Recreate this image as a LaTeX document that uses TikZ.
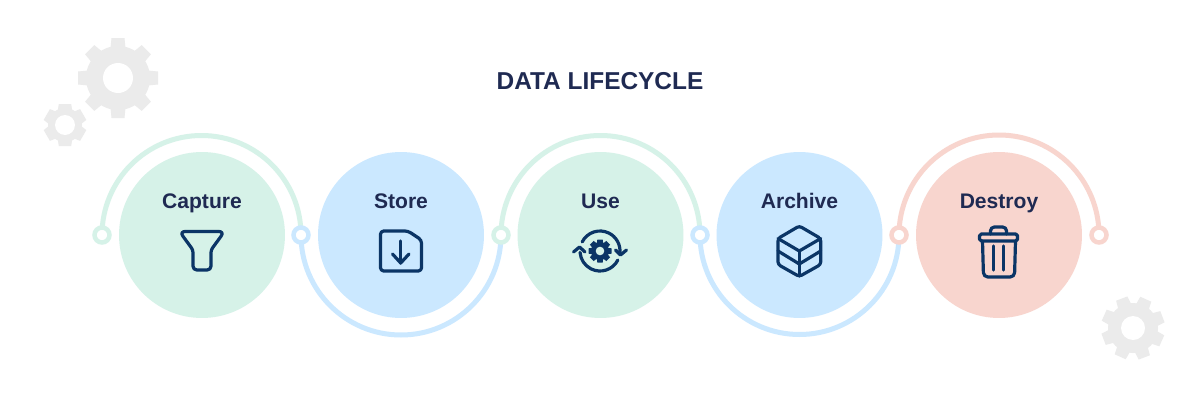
\documentclass[tikz,border=0pt]{standalone}
\usepackage{fontspec}
\setmainfont{Liberation Sans}
\definecolor{softgreen}{HTML}{D6F2E8}
\definecolor{softblue}{HTML}{CBE8FF}
\definecolor{softpink}{HTML}{F8D5CE}
\definecolor{geargray}{HTML}{EBEBEB}
\definecolor{inkblue}{HTML}{1F2A52}
\definecolor{iconblue}{HTML}{0B3566}
\tikzset{
  stage/.style={circle,minimum size=3.32cm,inner sep=0pt},
  stagelabel/.style={anchor=base,text=inkblue,font=\fontsize{12}{14}\bfseries},
  titlelabel/.style={anchor=base,text=inkblue,font=\fontsize{13.9}{16}\bfseries},
  ringline/.style={line width=0.1cm},
  ringdot/.style={circle,fill=white,line width=0.09cm,minimum size=0.3cm,inner sep=0pt},
  iconline/.style={draw=iconblue,line width=0.064cm,line cap=round,line join=round},
}
% x, y, body radius, tip radius, hole radius, tooth half width, tooth angles, colour, hole colour
\newcommand{\gearshape}[9]{
  \fill[#8] (#1,#2) circle (#3);
  \foreach \a in {#7}
    \fill[#8,shift={(#1,#2)},rotate=\a] ({#3-2},{-#6*1.15}) -- (#4,-#6) -- (#4,#6) -- ({#3-2},{#6*1.15}) -- cycle;
  \fill[#9] (#1,#2) circle (#5);
}
\begin{document}
\begin{tikzpicture}[x=0.02cm,y=0.02cm]
\useasboundingbox (0,0) rectangle (1200,400);
\fill[white] (0,0) rectangle (1200,400);
% gears
\gearshape{118}{322}{32}{40}{15}{6.5}{0,45,...,315}{geargray}{white}
\gearshape{65}{275}{17}{21}{10}{6.2}{90,150,...,390}{geargray}{white}
\gearshape{1133}{72}{25}{31.5}{12}{6}{21,66,...,336}{geargray}{white}
\node[titlelabel] (title) at (600,311) {DATA LIFECYCLE};
% arcs
\coordinate (p1) at (102,165);
\coordinate (p2) at (301,165);
\coordinate (p3) at (501,165);
\coordinate (p4) at (700,165);
\coordinate (p5) at (899,165);
\coordinate (p6) at (1099,165);
\draw[ringline,softgreen] (p1) arc (180:0:99.5);
\draw[ringline,softblue] (p2) arc (180:360:100);
\draw[ringline,softgreen] (p3) arc (180:0:99.5);
\draw[ringline,softblue] (p4) arc (180:360:99.5);
\draw[ringline,softpink] (p5) arc (180:0:100);
\node[ringdot,draw=softgreen] (dot1) at (p1) {};
\node[ringdot,draw=softblue] (dot2) at (p2) {};
\node[ringdot,draw=softgreen] (dot3) at (p3) {};
\node[ringdot,draw=softblue] (dot4) at (p4) {};
\node[ringdot,draw=softpink] (dot5) at (p5) {};
\node[ringdot,draw=softpink] (dot6) at (p6) {};
% stages
\foreach \n/\x/\c/\t in {capture/202/softgreen/Capture,store/401/softblue/Store,use/600.5/softgreen/Use,archive/799.5/softblue/Archive,destroy/999/softpink/Destroy}{
  \node[stage,fill=\c] (\n) at (\x,165) {};
  \node[stagelabel] (\n label) at (\x,192) {\t};
}
% funnel
\draw[iconline] (202,168.5) [rounded corners=3.2pt] -- (179.5,168.5) [rounded corners=1.5pt] -- (193,150) [rounded corners=2.2pt] -- (193,130) -- (211,130) [rounded corners=1.5pt] -- (211,150) [rounded corners=3.2pt] -- (224.5,168.5) -- cycle;
% file
\draw[iconline,rounded corners=1.8pt] (380.5,169) -- (408,169) -- (421.5,160) -- (421.5,129) -- (380.5,129) -- cycle;
\draw[iconline] (400.7,159) -- (400.7,137);
\draw[iconline] (392.5,146) -- (400.7,137) -- (409,146);
% recycle
\draw[iconline] (600,149) ++(153:20) arc (153:-5:20);
\draw[iconline] (600,149) ++(-27:20) arc (-27:-176:20);
\draw[iconline] (615.5,150) -- (620.5,145) -- (626.5,150);
\draw[iconline] (573.5,148) -- (579.5,153) -- (585,148);
\gearshape{600}{149}{9}{11.5}{4.3}{2.7}{0,45,...,315}{iconblue}{softgreen}
% box
\draw[iconline,rounded corners=1.5pt] (799.3,174) -- (820.7,161.5) -- (820.7,135.5) -- (799.3,123.5) -- (778,135.5) -- (778,161.5) -- cycle;
\draw[iconline] (778,161.5) -- (799.3,149) -- (820.7,161.5);
\draw[iconline] (799.3,149) -- (799.3,124);
\draw[iconline] (778,149) -- (799.3,136) -- (820.7,149);
% bin
\draw[iconline,rounded corners=1pt] (979.5,159) rectangle (1017.5,166);
\draw[iconline,rounded corners=2.2pt] (990.5,166) -- (990.5,173) -- (1006.5,173) -- (1006.5,166);
\draw[iconline,rounded corners=2.5pt] (982.5,159) -- (983.5,123) -- (1014.5,123) -- (1015.5,159);
\draw[iconline] (993.3,154) -- (993.3,130);
\draw[iconline] (1003.3,154) -- (1003.3,130);
\end{tikzpicture}
\end{document}
